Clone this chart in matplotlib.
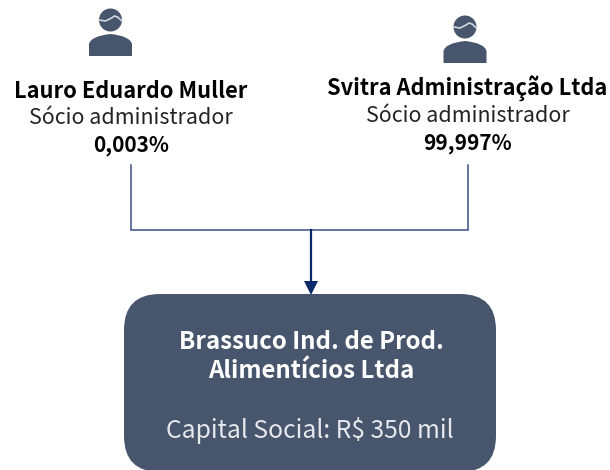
import matplotlib
matplotlib.use("Agg")
import matplotlib.pyplot as plt
from matplotlib.patches import FancyBboxPatch, Circle, PathPatch, Polygon
from matplotlib.path import Path

partners = ["Lauro Eduardo Muller", "Svitra Administração Ltda"]
roles = ["Sócio administrador", "Sócio administrador"]
shares = ["0,003%", "99,997%"]
company = ["Brassuco Ind. de Prod.", "Alimentícios Ltda"]
capital = "Capital Social: R$ 350 mil"

DARK = "#47566C"
NAVY = "#0B2A6B"
LINE = "#3A4F86"
plt.rcParams["font.family"] = ["Noto Sans CJK KR", "DejaVu Sans"]

fig = plt.figure(figsize=(6.1, 4.7), dpi=100)
ax = fig.add_axes([0, 0, 1, 1])
ax.set_xlim(0, 610)
ax.set_ylim(470, 0)
ax.axis("off")


def person(cx, head_y):
    ax.add_patch(Circle((cx, head_y), 11.5, fc=DARK, ec="none"))
    hair = [(cx - 11.5, head_y), (cx - 5, head_y + 1), (cx + 1, head_y - 2), (cx + 4, head_y - 4),
            (cx + 7, head_y - 3), (cx + 11.5, head_y + 1)]
    ax.plot(*zip(*hair), color="#D4D8DE", lw=1.2, solid_joinstyle="round")
    top, bot = head_y + 14, head_y + 36
    L, R = cx - 21.5, cx + 21.5
    verts = [(L, bot), (L, top + 10), (L + 2, top + 2), (cx, top), (R - 2, top + 2), (R, top + 10), (R, bot), (L, bot)]
    codes = [Path.MOVETO, Path.LINETO, Path.CURVE3, Path.CURVE3, Path.CURVE3, Path.CURVE3, Path.LINETO, Path.CLOSEPOLY]
    ax.add_patch(PathPatch(Path(verts, codes), fc=DARK, ec="none"))


person(110.5, 20)
person(465, 27)

xs = [131, 468]
ys = [91.5, 88.5]
ys2 = [118.5, 116.5]
ys3 = [145.5, 143.5]
cxs = [131, 467.5]
for i in range(2):
    ax.text(cxs[i], ys[i], partners[i], ha="center", va="center", fontsize=15.7, fontweight="bold", color="black")
    ax.text(cxs[i], ys2[i], roles[i], ha="center", va="center", fontsize=15.4, color="#222222")
    ax.text(cxs[i], ys3[i], shares[i], ha="center", va="center", fontsize=15, fontweight="bold", color="black")

ax.plot([xs[0], xs[0], xs[1], xs[1]], [165, 230, 230, 165], color=LINE, lw=1.1, solid_joinstyle="miter")
ax.plot([311, 311], [230, 283], color=NAVY, lw=1.6)
ax.add_patch(Polygon([(304, 281), (318, 281), (311, 295)], fc=NAVY, ec="none"))

r = 36
ax.add_patch(FancyBboxPatch((124 + r, 294 + r), 372 - 2 * r, 178 - 2 * r,
                            boxstyle=f"round,pad={r},rounding_size={r}", fc=DARK, ec="none", clip_on=True))
ax.text(311, 342, company[0], ha="center", va="center", fontsize=17.3, fontweight="bold", color="white")
ax.text(311, 371, company[1], ha="center", va="center", fontsize=17.3, fontweight="bold", color="white")
ax.text(310, 430.5, capital, ha="center", va="center", fontsize=17.8, color="#E6E8EC")

fig.savefig("out.png", dpi=100)
